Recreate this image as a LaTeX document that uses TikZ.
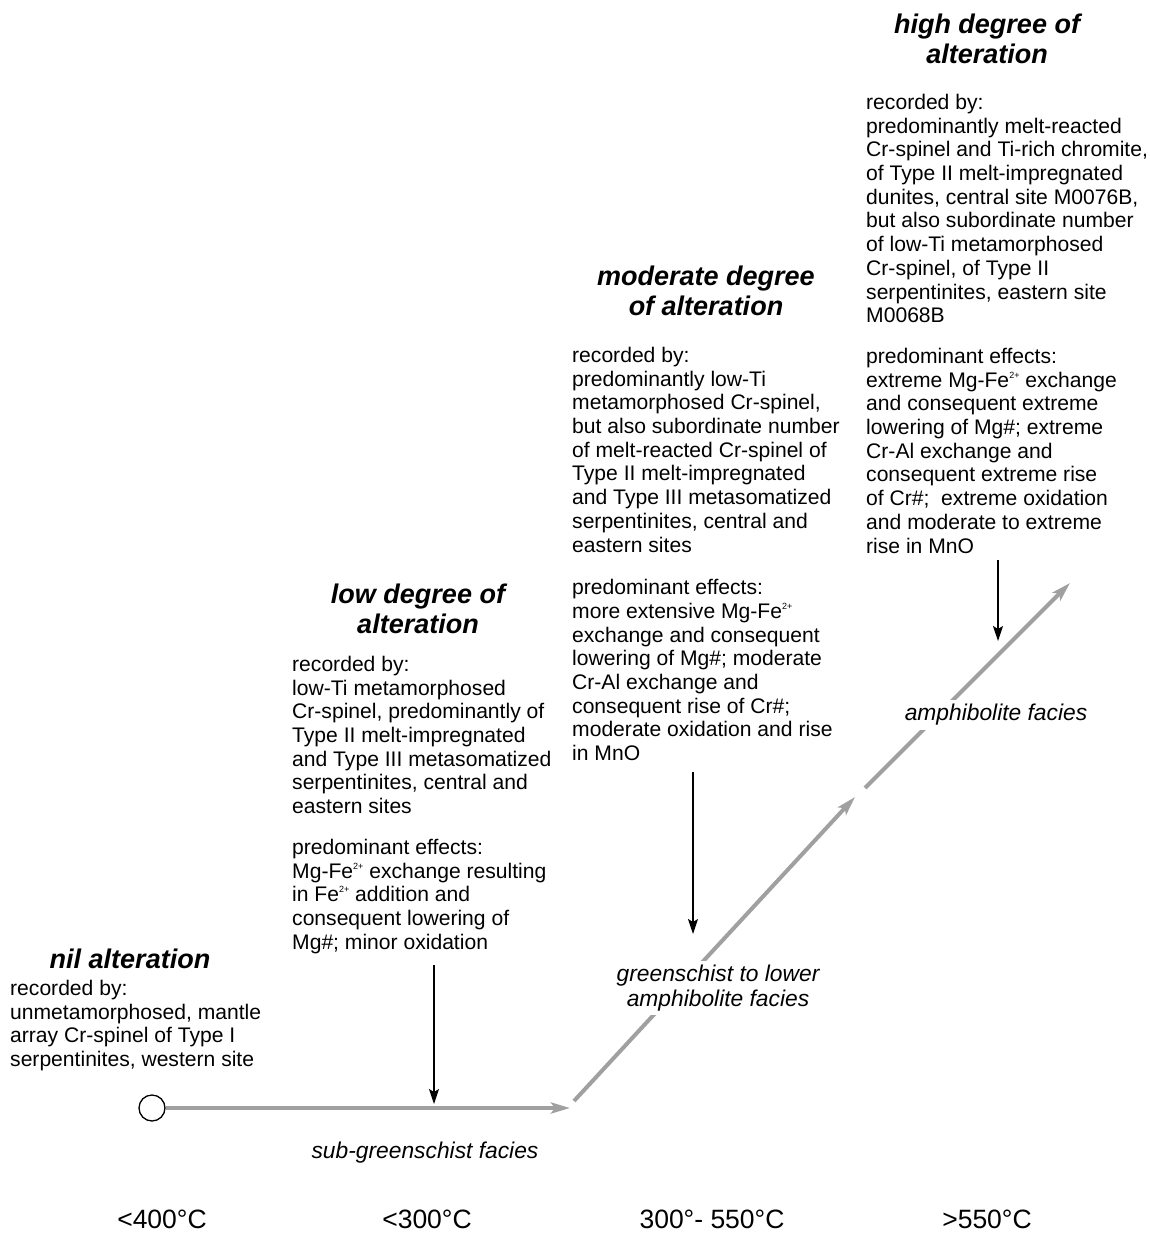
\documentclass[tikz,border=0pt]{standalone}
\usepackage{fontspec}
\setmainfont{Liberation Sans}
\usepackage{tikz}
\usetikzlibrary{arrows.meta}
\usetikzlibrary{positioning}

\definecolor{faciesgray}{RGB}{160,160,160}
\newcommand{\fetwo}{Fe\raisebox{0.8ex}{\fontsize{9}{9}\selectfont 2+}}

\tikzset{
  degtitle/.style={font=\fontsize{27}{30}\selectfont\bfseries\itshape, align=center, anchor=north, inner sep=0pt},
  blocktext/.style={font=\fontsize{21.1}{23.7}\selectfont, align=left, anchor=north west, inner sep=0pt},
  facieslabel/.style={font=\fontsize{22.8}{25}\selectfont\itshape, align=center, fill=white, inner sep=4pt},
  templabel/.style={font=\fontsize{26.5}{28}\selectfont, inner sep=0pt},
  faciesline/.style={faciesgray, line width=4pt, -{Stealth[length=19pt, width=11pt, inset=4pt]}},
  hitarrow/.style={black, line width=1.4pt, -{Stealth[length=15pt, width=10pt, inset=3pt]}}
}

\begin{document}
\begin{tikzpicture}[x=1pt, y=-1pt]
  \useasboundingbox (0,0) rectangle (1149,1233);

  \node[degtitle] (niltitle) at (130,949) {nil alteration};
  \node[blocktext] (nilrec) at (10,980) {recorded by:\\unmetamorphosed, mantle\\array Cr-spinel of Type I\\serpentinites, western site};

  \node[degtitle] (lowtitle) at (418,584) {low degree of\\alteration};
  \node[blocktext] (lowrec) at (292,656) {recorded by:\\low-Ti metamorphosed\\Cr-spinel, predominantly of\\Type II melt-impregnated\\and Type III metasomatized\\serpentinites, central and\\eastern sites\\[17pt]predominant effects:\\Mg-\fetwo{} exchange resulting\\in \fetwo{} addition and\\consequent lowering of\\Mg\#; minor oxidation};

  \node[degtitle] (modtitle) at (706,266) {moderate degree\\of alteration};
  \node[blocktext] (modrec) at (572,347) {recorded by:\\predominantly low-Ti\\metamorphosed Cr-spinel,\\but also subordinate number\\of melt-reacted Cr-spinel of\\Type II melt-impregnated\\and Type III metasomatized\\serpentinites, central and\\eastern sites\\[19pt]predominant effects:\\more extensive Mg-\fetwo\\exchange and consequent\\lowering of Mg\#; moderate\\Cr-Al exchange and\\consequent rise of Cr\#;\\moderate oxidation and rise\\in MnO};

  \node[degtitle] (hightitle) at (987,14) {high degree of\\alteration};
  \node[blocktext] (highrec) at (866,94) {recorded by:\\predominantly melt-reacted\\Cr-spinel and Ti-rich chromite,\\of Type II melt-impregnated\\dunites, central site M0076B,\\but also subordinate number\\of low-Ti metamorphosed\\Cr-spinel, of Type II\\serpentinites, eastern site\\M0068B\\[17pt]predominant effects:\\extreme Mg-\fetwo{} exchange\\and consequent extreme\\lowering of Mg\#; extreme\\Cr-Al exchange and\\consequent extreme rise\\of Cr\#;\ \ extreme oxidation\\and moderate to extreme\\rise in MnO};

  \node[circle, draw, line width=1.3pt, minimum size=26pt, inner sep=0pt] (start) at (152,1108) {};
  \coordinate (subend) at (570,1108);
  \coordinate (bend) at (574,1101);
  \coordinate (midend) at (855,797);
  \coordinate (upstart) at (865,788);
  \coordinate (upend) at (1070,583);

  \draw[faciesline] (start) -- (subend);
  \draw[faciesline] (bend) -- (midend);
  \draw[faciesline] (upstart) -- (upend);

  \node[facieslabel] (subfac) at (425,1153) {sub-greenschist facies};
  \node[facieslabel] (greenfac) at (718,988) {greenschist to lower\\amphibolite facies};
  \node[facieslabel] (amphfac) at (996,715) {amphibolite facies};

  \coordinate (lowfrom) at (434,965);
  \coordinate (lowto) at (434,1104);
  \coordinate (modfrom) at (693,772);
  \coordinate (modto) at (693,934);
  \coordinate (highfrom) at (998,560);
  \coordinate (highto) at (998,641);
  \draw[hitarrow] (lowfrom) -- (lowto);
  \draw[hitarrow] (modfrom) -- (modto);
  \draw[hitarrow] (highfrom) -- (highto);

  \node[templabel] (tnil) at (162,1219) {<400°C};
  \node[templabel] (tlow) at (427,1219) {<300°C};
  \node[templabel] (tmod) at (712,1219) {300°- 550°C};
  \node[templabel] (thigh) at (987,1219) {>550°C};
\end{tikzpicture}
\end{document}
